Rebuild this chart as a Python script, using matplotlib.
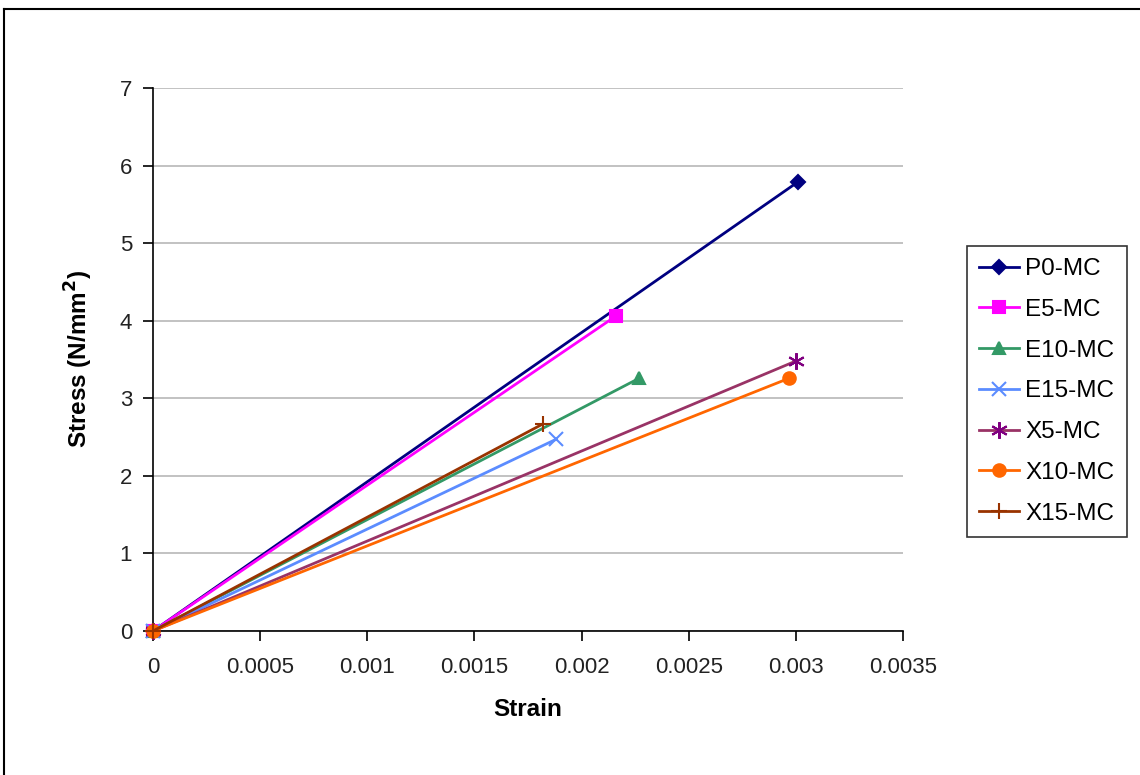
import matplotlib
matplotlib.use("Agg")
import matplotlib.pyplot as plt
from matplotlib.lines import Line2D

plt.rcParams['font.family'] = ['Liberation Sans', 'DejaVu Sans']

series_names = ["P0-MC", "E5-MC", "E10-MC", "E15-MC", "X5-MC", "X10-MC", "X15-MC"]
strain_end = [0.00301, 0.00216, 0.00227, 0.00188, 0.00300, 0.00297, 0.00182]
stress_end = [5.79, 4.06, 3.26, 2.47, 3.48, 3.26, 2.67]
line_colors = ["#000080", "#FF00FF", "#339966", "#5B8CFF", "#993366", "#FF6600", "#993300"]
marker_colors = ["#000080", "#FF00FF", "#339966", "#5B8CFF", "#800080", "#FF6600", "#993300"]
markers = ["D", "s", "^", "x", (6, 2, 0), "o", "+"]
marker_sizes = [7, 8, 9, 10, 12, 9, 11]

x_ticks = [0, 0.0005, 0.001, 0.0015, 0.002, 0.0025, 0.003, 0.0035]
x_tick_labels = ["0", "0.0005", "0.001", "0.0015", "0.002", "0.0025", "0.003", "0.0035"]
y_ticks = [0, 1, 2, 3, 4, 5, 6, 7]

fig = plt.figure(figsize=(11.4, 7.75), dpi=100)
ax = fig.add_axes([153/1140, 1-631/775, 750/1140, 543/775])

for name, xe, ye, lc, mc, m, ms in zip(series_names, strain_end, stress_end,
                                       line_colors, marker_colors, markers, marker_sizes):
    ax.plot([0, xe], [0, ye], color=lc, lw=2, marker=m, markersize=ms,
            markerfacecolor=mc, markeredgecolor=mc, markeredgewidth=1.5,
            label=name, clip_on=False, zorder=3)

ax.set_xlim(0, 0.0035)
ax.set_ylim(0, 7)
ax.set_xticks(x_ticks)
ax.set_xticklabels(x_tick_labels)
ax.set_yticks(y_ticks)
ax.tick_params(axis='both', labelsize=16, direction='out', length=7, width=1.2,
               colors='black', labelcolor='#222222')
ax.tick_params(axis='y', pad=8)
ax.tick_params(axis='x', pad=12)
ax.yaxis.grid(True, color='#BDBDBD', lw=1.3)
ax.set_axisbelow(True)
for s in ['top', 'right']:
    ax.spines[s].set_visible(False)
for s in ['left', 'bottom']:
    ax.spines[s].set_linewidth(1.2)
    ax.spines[s].set_color('black')

ax.set_xlabel("Strain", fontsize=17.5, fontweight='bold', labelpad=14)
ax.set_ylabel("Stress (N/mm$^\\mathbf{2}$)", fontsize=17.5, fontweight='bold', labelpad=18)

leg = fig.legend(loc='upper left', bbox_to_anchor=(967/1140, 1-246/775),
                 fontsize=17.5, frameon=True, fancybox=False, handlelength=1.65,
                 labelspacing=0.77, borderpad=0.5, handletextpad=0.25,
                 borderaxespad=0)
leg.get_frame().set_edgecolor('black')
leg.get_frame().set_linewidth(1.2)

# outer chart border (cut off at right/bottom)
fig.add_artist(Line2D([4/1140, 4/1140], [0, 1-9/775], transform=fig.transFigure,
                      color='black', lw=1.5))
fig.add_artist(Line2D([4/1140, 1], [1-9/775, 1-9/775], transform=fig.transFigure,
                      color='black', lw=1.5))

fig.savefig("out.png", dpi=100)
